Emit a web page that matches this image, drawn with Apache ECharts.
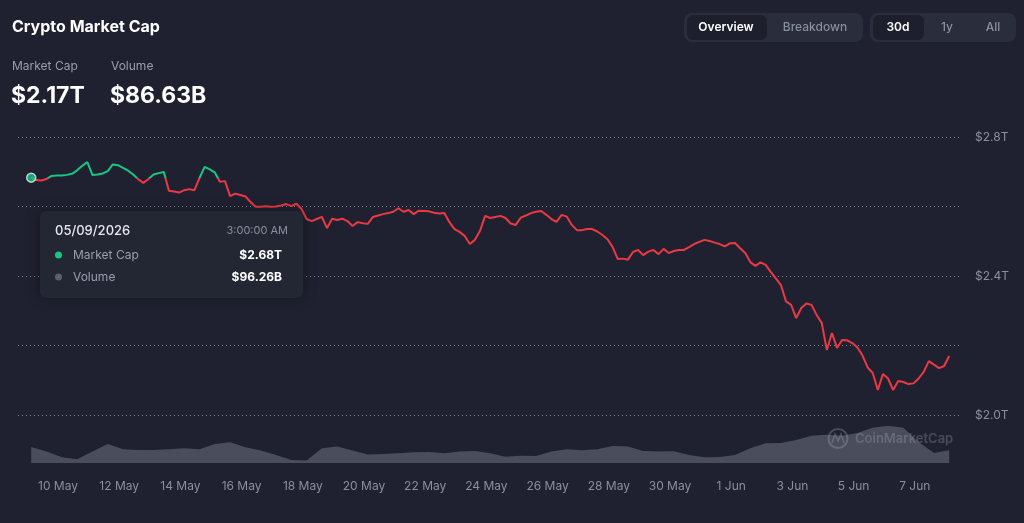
<!DOCTYPE html>
<html>
<head>
<meta charset="utf-8">
<script src="https://cdn.jsdelivr.net/npm/echarts@6/dist/echarts.min.js"></script>
<style>
html, body { margin: 0; padding: 0; background: #1f2130; }
#chart { width: 1024px; height: 523px; }
</style>
</head>
<body>
<div id="chart"></div>
<script>
// time is in "May day numbers": 9.125 = 9 May 03:00, 32 = 1 Jun
const startDay = 9.125
const capStepDays = 1 / 6   // 4 hours
const volStepDays = 0.5     // 12 hours

// market cap, trillions USD
const marketCap = [
	2.683, 2.676, 2.675, 2.679, 2.688, 2.689, 2.689, 2.691, 2.694, 2.704,
	2.717, 2.728, 2.691, 2.692, 2.695, 2.702, 2.721, 2.719, 2.711, 2.703,
	2.692, 2.678, 2.668, 2.679, 2.692, 2.696, 2.699, 2.645, 2.643, 2.640,
	2.647, 2.650, 2.647, 2.682, 2.714, 2.707, 2.698, 2.671, 2.673, 2.630,
	2.637, 2.633, 2.629, 2.613, 2.599, 2.599, 2.601, 2.599, 2.600, 2.603,
	2.607, 2.601, 2.608, 2.593, 2.564, 2.558, 2.564, 2.570, 2.538, 2.565,
	2.561, 2.565, 2.558, 2.544, 2.555, 2.552, 2.550, 2.570, 2.574, 2.578,
	2.581, 2.585, 2.595, 2.585, 2.590, 2.578, 2.588, 2.587, 2.586, 2.582,
	2.580, 2.581, 2.555, 2.535, 2.527, 2.515, 2.492, 2.504, 2.530, 2.573,
	2.567, 2.570, 2.573, 2.567, 2.551, 2.547, 2.568, 2.574, 2.581, 2.585,
	2.587, 2.576, 2.564, 2.556, 2.576, 2.571, 2.547, 2.532, 2.532, 2.535,
	2.535, 2.528, 2.518, 2.506, 2.483, 2.449, 2.450, 2.447, 2.469, 2.475,
	2.460, 2.470, 2.475, 2.463, 2.478, 2.466, 2.472, 2.475, 2.475, 2.483,
	2.492, 2.498, 2.504, 2.501, 2.496, 2.492, 2.485, 2.494, 2.495, 2.480,
	2.466, 2.440, 2.429, 2.439, 2.432, 2.412, 2.393, 2.374, 2.327, 2.317,
	2.279, 2.308, 2.321, 2.317, 2.288, 2.265, 2.187, 2.236, 2.193, 2.216,
	2.215, 2.207, 2.194, 2.171, 2.137, 2.121, 2.072, 2.118, 2.105, 2.072,
	2.098, 2.095, 2.089, 2.091, 2.105, 2.124, 2.155, 2.145, 2.135, 2.141,
	2.170
]

// volume, billions USD
const volume = [
	96.26, 83, 66.6, 60.8, 83, 105, 90, 88, 88, 90,
	93, 90, 105, 110, 96, 86, 73, 59, 57, 93,
	97.5, 86, 75, 76, 78, 81, 82, 78, 83, 85,
	78, 68, 71, 70, 83, 90, 87, 90, 99.6, 97.5,
	85, 83, 84, 73, 66.6, 67.5, 73, 93, 107, 108,
	117, 129, 132, 129, 137, 152, 158, 152, 111, 79,
	86.63
]

const dayTicks = [10, 12, 14, 16, 18, 20, 22, 24, 26, 28, 30, 32, 34, 36, 38]
const dayLabels = ['10 May', '12 May', '14 May', '16 May', '18 May', '20 May', '22 May', '24 May',
	'26 May', '28 May', '30 May', '1 Jun', '3 Jun', '5 Jun', '7 Jun']

const capTicks = [2.0, 2.4, 2.8]
const capLabels = ['$2.0T', '$2.4T', '$2.8T']

const GREEN = '#16c784'
const RED = '#ea3943'
const FONT = 'Inter, "Noto Sans", sans-serif'

const capData = marketCap.map((v, i) => [startDay + i * capStepDays, v])
const volData = volume.map((v, i) => [startDay + i * volStepDays, v])

const xMin = 8.693
const xMax = 39.477

function txt(text, x, y, size, color, weight, align) {
	return {
		type: 'text',
		z: 50,
		style: {
			text: text,
			x: x,
			y: y,
			fill: color,
			font: (weight || 'normal') + ' ' + size + 'px ' + FONT,
			textAlign: align || 'left',
			textVerticalAlign: 'middle'
		}
	}
}

function rect(x, y, w, h, r, color, extra) {
	return {
		type: 'rect',
		z: 40,
		shape: { x: x, y: y, width: w, height: h, r: r },
		style: Object.assign({ fill: color }, extra || {})
	}
}

const graphics = [
	// header
	txt('Crypto Market Cap', 12, 27, 16, '#ffffff', 'bold'),
	txt('Market Cap', 12, 66, 12, '#9a9fac'),
	txt('Volume', 111, 66, 12, '#9a9fac'),
	txt('$2.17T', 11, 96, 23, '#ffffff', 'bold'),
	txt('$86.63B', 110, 96, 23, '#ffffff', 'bold'),

	// buttons
	rect(684, 13, 179, 29, 8, '#2a2d3c'),
	rect(687, 15, 80, 25, 6, '#1d1f2c'),
	txt('Overview', 726, 27.5, 12, '#ffffff', '600', 'center'),
	txt('Breakdown', 815, 27.5, 12, '#8a8f9d', '500', 'center'),
	rect(870, 13, 146, 29, 8, '#2a2d3c'),
	rect(873, 15, 51, 25, 6, '#1d1f2c'),
	txt('30d', 898, 27.5, 12, '#ffffff', '600', 'center'),
	txt('1y', 947, 27.5, 12, '#8a8f9d', '500', 'center'),
	txt('All', 993, 27.5, 12, '#8a8f9d', '500', 'center'),

	// tooltip
	rect(40, 211, 263, 87, 6, '#232633', { shadowBlur: 14, shadowColor: 'rgba(0,0,0,0.35)' }),
	txt('05/09/2026', 55, 231, 13, '#e6e7eb', '500'),
	txt('3:00:00 AM', 288, 231, 11, '#8a8f9d', 'normal', 'right'),
	{ type: 'circle', z: 50, shape: { cx: 58.5, cy: 255, r: 3.5 }, style: { fill: GREEN } },
	txt('Market Cap', 73, 255, 12, '#9a9fac'),
	txt('$2.68T', 282, 255, 12, '#ffffff', 'bold', 'right'),
	{ type: 'circle', z: 50, shape: { cx: 58.5, cy: 277, r: 3.5 }, style: { fill: '#5b5f6c' } },
	txt('Volume', 73, 277, 12, '#9a9fac'),
	txt('$96.26B', 282, 277, 12, '#ffffff', 'bold', 'right'),

	// watermark
	{ type: 'circle', z: 30, shape: { cx: 838, cy: 438.5, r: 9.5 },
		style: { fill: 'none', stroke: 'rgba(170,175,190,0.3)', lineWidth: 2 } },
	{ type: 'polyline', z: 30, shape: { points: [[832, 443], [835, 434], [838, 441], [841, 434], [844, 443]] },
		style: { fill: 'none', stroke: 'rgba(170,175,190,0.3)', lineWidth: 1.6 } },
	txt('CoinMarketCap', 855, 439, 13, 'rgba(170,175,190,0.3)', '600')
]

const chart = echarts.init(document.getElementById('chart'), null, { renderer: 'canvas' })

const option = {
	backgroundColor: '#1f2130',
	animation: false,
	textStyle: { fontFamily: FONT },
	grid: [
		{ left: 18, right: 64, top: 137, bottom: 108 },
		{ left: 18, right: 64, top: 413, bottom: 60 }
	],
	xAxis: [
		{
			type: 'value', gridIndex: 0, min: xMin, max: xMax, show: false
		},
		{
			type: 'value', gridIndex: 1, min: xMin, max: xMax,
			axisLine: { show: false },
			axisTick: { show: false },
			splitLine: { show: false },
			axisLabel: {
				customValues: dayTicks,
				color: '#8a8f9d',
				fontSize: 12,
				margin: 17,
				formatter: v => dayLabels[dayTicks.indexOf(Math.round(v))] || ''
			}
		}
	],
	yAxis: [
		{
			type: 'value', gridIndex: 0, position: 'right',
			min: 2.0, max: 2.8, interval: 0.2,
			axisLine: { show: false },
			axisTick: { show: false },
			axisLabel: {
				color: '#8a8f9d',
				fontSize: 12,
				margin: 15,
				formatter: v => {
					const k = capTicks.findIndex(t => Math.abs(t - v) < 1e-6)
					return k >= 0 ? capLabels[k] : ''
				}
			},
			splitLine: { lineStyle: { color: '#80859a', type: [1, 3], width: 1 } }
		},
		{
			type: 'value', gridIndex: 1, min: 50, max: 195, show: false
		}
	],
	series: [
		{
			type: 'line',
			name: 'Market Cap',
			xAxisIndex: 0,
			yAxisIndex: 0,
			data: capData,
			showSymbol: false,
			lineStyle: { width: 2, color: RED },
			z: 5
		},
		{
			type: 'scatter',
			xAxisIndex: 0,
			yAxisIndex: 0,
			data: [capData[0]],
			symbolSize: 9,
			itemStyle: { color: GREEN, borderColor: '#d8f5e8', borderWidth: 1.5 },
			z: 6
		},
		{
			type: 'line',
			name: 'Volume',
			xAxisIndex: 1,
			yAxisIndex: 1,
			data: volData,
			showSymbol: false,
			lineStyle: { width: 0 },
			areaStyle: { color: '#4a4e5c', opacity: 1 },
			z: 2
		}
	],
	graphic: graphics
}

chart.setOption(option)

// green above the opening value, red below: a hard-stop gradient in page pixels
const yThr = chart.convertToPixel({ gridIndex: 0 }, [startDay, marketCap[0]])[1]
const h = chart.getHeight()
const f = yThr / h
chart.setOption({
	series: [{
		lineStyle: {
			color: new echarts.graphic.LinearGradient(0, 0, 0, h, [
				{ offset: 0, color: GREEN },
				{ offset: f, color: GREEN },
				{ offset: f, color: RED },
				{ offset: 1, color: RED }
			], true)
		}
	}]
})
</script>
</body>
</html>
